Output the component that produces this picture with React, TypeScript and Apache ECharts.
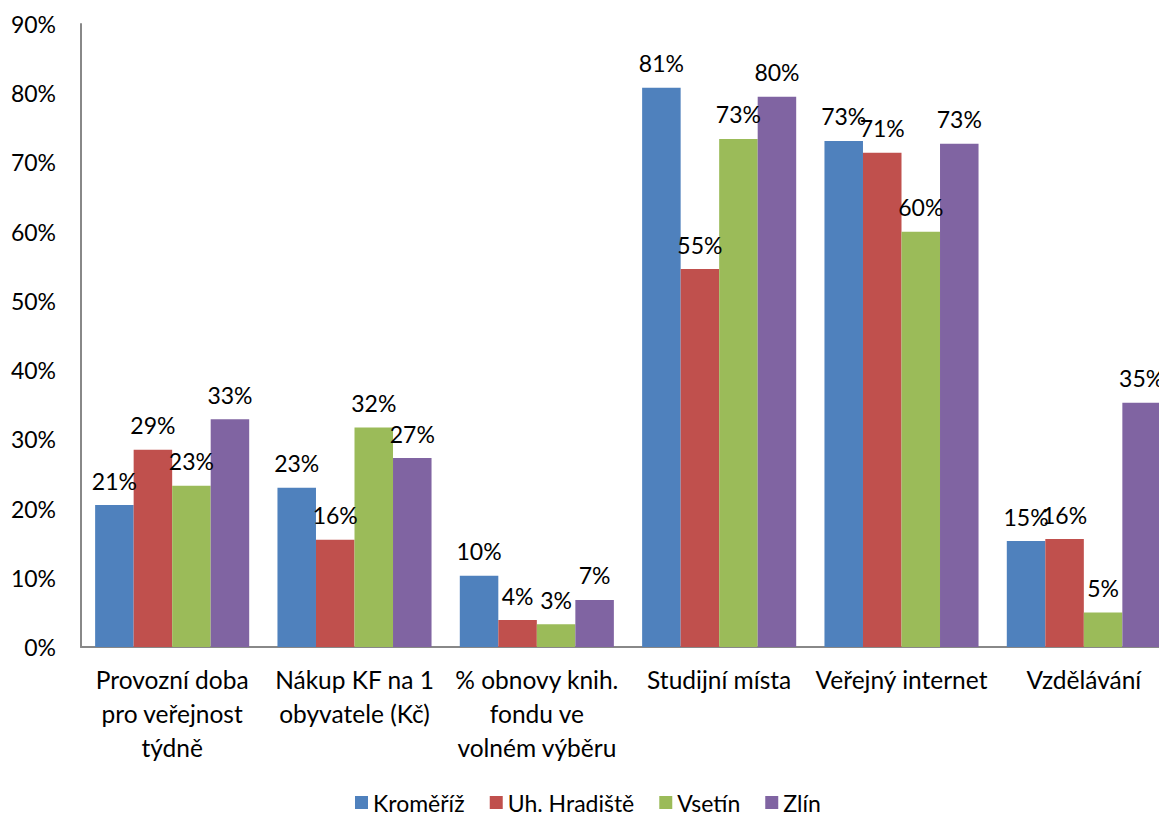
import React, { useEffect, useRef } from "react";
import * as echarts from "echarts";

const categories = [
  "Provozní doba\npro veřejnost\ntýdně",
  "Nákup KF na 1\nobyvatele (Kč)",
  "% obnovy knih.\nfondu ve\nvolném výběru",
  "Studijní místa",
  "Veřejný internet",
  "Vzdělávání",
];

const seriesNames = ["Kroměříž", "Uh. Hradiště", "Vsetín", "Zlín"];
const kromeriz = [20.5, 23.0, 10.3, 80.8, 73.1, 15.3];
const uhHradiste = [28.5, 15.5, 3.9, 54.6, 71.4, 15.6];
const vsetin = [23.3, 31.7, 3.3, 73.4, 60.0, 5.0];
const zlin = [32.9, 27.3, 6.8, 79.5, 72.7, 35.3];
const seriesValues = [kromeriz, uhHradiste, vsetin, zlin];
const colors = ["#4F81BD", "#C0504D", "#9BBB59", "#8064A2"];
const yTicks = [0, 10, 20, 30, 40, 50, 60, 70, 80, 90];

const FONT = "Lato";

export default function App() {
  const ref = useRef<HTMLDivElement>(null);
  useEffect(() => {
    if (!ref.current) return;
    const chart = echarts.init(ref.current, undefined, { renderer: "svg" });
    chart.setOption({
      animation: false,
      textStyle: { fontFamily: FONT },
      grid: { left: 81, top: 24, width: 1094, height: 623 },
      legend: {
        top: 786,
        left: 350,
        itemWidth: 13,
        itemHeight: 13,
        itemGap: 25,
        icon: "rect",
        textStyle: { fontSize: 23, color: "#000", fontFamily: FONT, padding: [0, 0, 0, 0] },
        data: seriesNames,
      },
      xAxis: {
        type: "category",
        data: categories,
        axisLine: { lineStyle: { color: "#888888", width: 2 } },
        axisTick: { show: false },
        axisLabel: {
          color: "#000",
          fontSize: 24.5,
          lineHeight: 34,
          margin: 15,
          interval: 0,
          fontFamily: FONT,
        },
      },
      yAxis: {
        type: "value",
        min: yTicks[0],
        max: yTicks[yTicks.length - 1],
        interval: 10,
        splitLine: { show: false },
        axisLine: { show: true, lineStyle: { color: "#888888", width: 2 } },
        axisTick: { show: false },
        axisLabel: {
          color: "#000",
          fontSize: 23,
          margin: 25,
          fontFamily: FONT,
          formatter: (v: number) => `${v}%`,
        },
      },
      series: seriesNames.map((name, i) => ({
        name,
        type: "bar",
        data: seriesValues[i],
        barGap: "0%",
        barCategoryGap: "15.5%",
        itemStyle: { color: colors[i] },
        label: {
          show: true,
          position: "top",
          distance: 13,
          color: "#000",
          fontSize: 23,
          fontFamily: FONT,
          formatter: (p: any) => `${Math.round(p.value)}%`,
        },
      })),
    });
    return () => chart.dispose();
  }, []);
  return (
    <div
      style={{
        position: "absolute",
        left: 0,
        top: 0,
        width: 1159,
        height: 813,
        overflow: "hidden",
        background: "#fff",
      }}
    >
      <div ref={ref} style={{ width: 1185, height: 813 }} />
    </div>
  );
}
